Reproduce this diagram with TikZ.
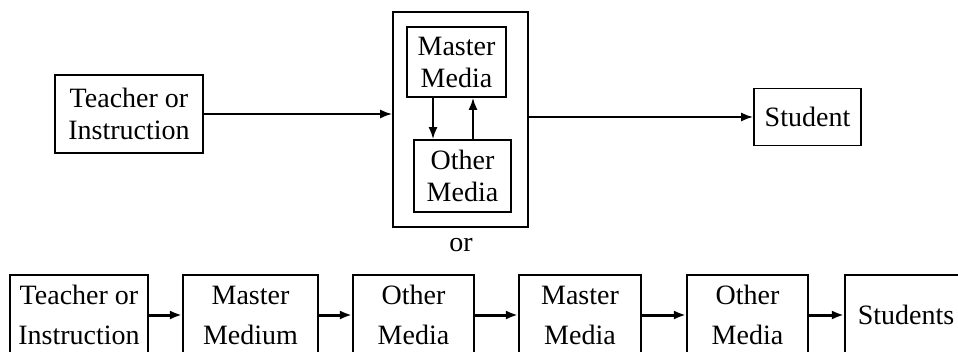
\documentclass[tikz,border=0pt]{standalone}
\usepackage{fontspec}
\setmainfont{Liberation Serif}
\usepackage{tikz}
\usetikzlibrary{arrows.meta}

\begin{document}
\begin{tikzpicture}[x=0.5pt,y=-0.5pt,line width=0.9pt,-]
            \tikzstyle{box}=[draw=black,fill=white,align=center,inner sep=0pt,font=\fontsize{14}{16}\selectfont]
            \tikzstyle{rowbox}=[box,line width=1.1pt,minimum height=40pt,font=\fontsize{14}{20}\selectfont]
            \tikzstyle{tip}=[-{Latex[length=6pt,width=4.5pt]}]
            \useasboundingbox (0,0) rectangle (958,352);

            % upper diagram
            \node[box,minimum width=74pt,minimum height=39pt] (teacher) at (129,114) {Teacher or\\Instruction};
            \node[box,minimum width=67.5pt,minimum height=107.5pt] (outer) at (460.5,119.5) {};
            \node[box,minimum width=49.5pt,minimum height=35pt] (master) at (456.5,62) {Master\\Media};
            \node[box,minimum width=48.5pt,minimum height=36pt] (other) at (462.5,176) {Other\\Media};
            \node[box,minimum width=53.5pt,minimum height=28.5pt] (student) at (807.5,117) {Student};
            \node[font=\fontsize{14}{16}\selectfont] (or) at (461,245) {or};

            \draw[tip] (teacher) -- (teacher -| outer.west);
            \draw[tip] (outer.east |- student) -- (student);
            \draw[tip] ([xshift=-11.75pt]master.south) -- ([xshift=-11.75pt]master.south |- other.north);
            \draw[tip] ([xshift=5.25pt]other.north) -- ([xshift=5.25pt]other.north |- master.south);

            % lower diagram
            \foreach \num/\x/\w/\txt in {1/79/69/{Teacher or\\Instruction}, 2/250.5/67.5/{Master\\Medium}, 3/413.5/60.5/{Other\\Media}, 4/580/61/{Master\\Media}, 5/747.5/60.5/{Other\\Media}, 6/906/61/{Students}}
                    \node[rowbox,minimum width=\w pt] (B-\num) at (\x,315) {\txt};

                \foreach \from/\to in {1/2, 2/3, 3/4, 4/5, 5/6}
                    \draw[tip,line width=1.5pt] (B-\from) -- (B-\to);
        \end{tikzpicture}
\end{document}
